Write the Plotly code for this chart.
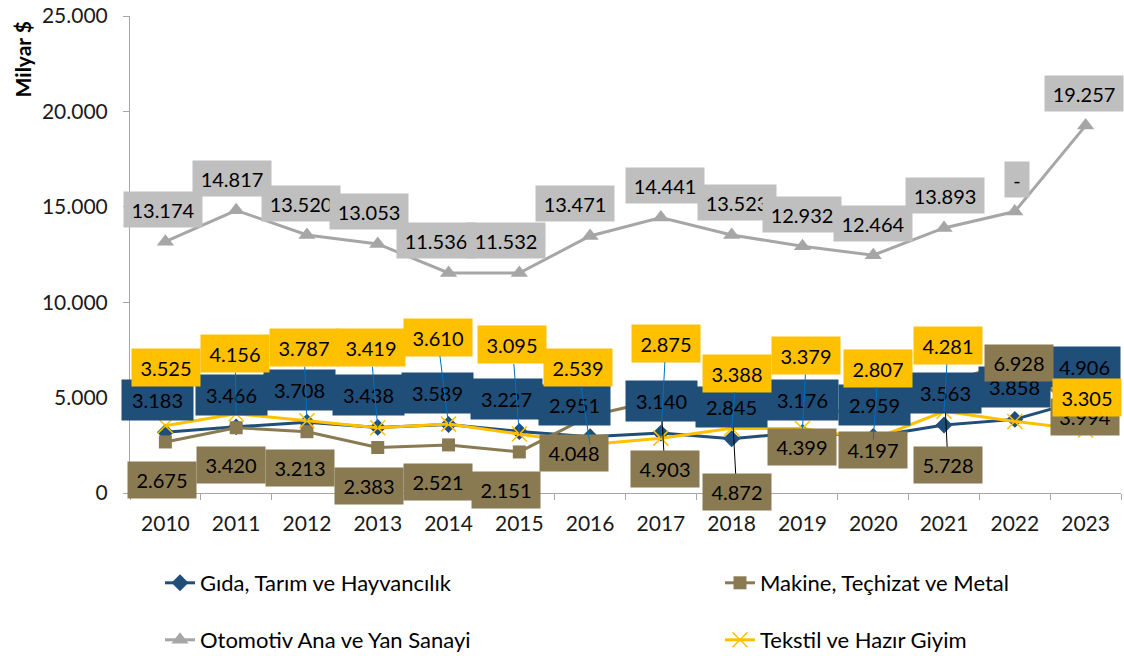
import plotly.graph_objects as go

years = ["2010", "2011", "2012", "2013", "2014", "2015", "2016",
         "2017", "2018", "2019", "2020", "2021", "2022", "2023"]
gida = [3183, 3466, 3708, 3438, 3589, 3227, 2951, 3140, 2845, 3176, 2959, 3563, 3858, 4906]
makine = [2675, 3420, 3213, 2383, 2521, 2151, 4048, 4903, 4872, 4399, 4197, 5728, 6928, 3994]
otomotiv = [13174, 14817, 13520, 13053, 11536, 11532, 13471, 14441, 13523, 12932, 12464, 13893, 14750, 19257]
tekstil = [3525, 4156, 3787, 3419, 3610, 3095, 2539, 2875, 3388, 3379, 2807, 4281, 3750, 3305]

def fmt(v):
    return f"{v:,}".replace(",", ".")

gida_labels = [fmt(v) for v in gida]
makine_labels = [fmt(v) for v in makine]
otomotiv_labels = [fmt(v) for v in otomotiv]
otomotiv_labels[12] = "-"
tekstil_labels = [fmt(v) for v in tekstil]
tekstil_labels[12] = None

names = ["Gıda, Tarım ve Hayvancılık", "Makine, Teçhizat ve Metal",
         "Otomotiv Ana ve Yan Sanayi", "Tekstil ve Hazır Giyim"]

BLUE = "#1F4E79"
BROWN = "#8A7A52"
GRAY = "#A6A6A6"
GRAYBOX = "#BFBFBF"
YELLOW = "#FFC000"
FONT = "Lato"

W, H = 1124, 656

fig = go.Figure()
fig.add_trace(go.Scatter(x=years, y=gida, name=names[0], mode="lines+markers",
                         line=dict(color=BLUE, width=3),
                         marker=dict(symbol="diamond", size=13, color=BLUE), legend="legend"))
fig.add_trace(go.Scatter(x=years, y=makine, name=names[1], mode="lines+markers",
                         line=dict(color=BROWN, width=3),
                         marker=dict(symbol="square", size=13, color=BROWN), legend="legend2"))
fig.add_trace(go.Scatter(x=years, y=otomotiv, name=names[2], mode="lines+markers",
                         line=dict(color=GRAY, width=3),
                         marker=dict(symbol="triangle-up", size=15, color=GRAY), legend="legend3"))
fig.add_trace(go.Scatter(x=years, y=tekstil, name=names[3], mode="lines+markers",
                         line=dict(color=YELLOW, width=3),
                         marker=dict(symbol="x-thin", size=15, color=YELLOW,
                                     line=dict(width=1.5, color=YELLOW)), legend="legend4"))

# label placement styles (pixel offsets of label boxes from their points)
oto_dx = [-2, -4, -6, -9, -13, -13, -15, 4, 5, 0, 0, 1, 2, -2]
oto_dy = [-32] * 14
gida_dx = [-8, -5, -7, -9, -11, -13, -16, 1, 0, 0, 1, 1, 0, -1]
gida_dy = [-32] * 14
mak_dx = [-3, -5, -7, -9, -11, -13, -16, 4, 5, 0, 0, 4, 4, -1]
mak_dy = [38, 37, 36, 38, 37, 38, 37, 70, 92, 38, 37, 81, 2, 0]
tek_dx = [1, -1, -3, -7, -11, -7, -12, 5, 5, 4, 5, 4, 0, 1]
tek_dy = [-58, -60, -73, -80, -87, -89, -77, -95, -55, -73, -71, -66, 0, -32]
tek_leader = [False, True, True, True, True, True, True, True, True, True, True, True, False, False]
mak_leader = [False, False, False, False, False, False, False, True, True, False, False, True, False, False]

annotations = []
shapes = []

def add_labels(vals, labels, dxs, dys, bg, w, h, leaders=None, leader_color=None):
    for i, (v, t) in enumerate(zip(vals, labels)):
        if t is None:
            continue
        lead = leaders[i] if leaders else False
        bw = w if t != "-" else 10
        annotations.append(dict(
            x=i, y=v, xref="x", yref="y", text=t,
            showarrow=True, ax=dxs[i], ay=dys[i], axref="pixel", ayref="pixel",
            arrowhead=0, arrowwidth=1, standoff=0,
            arrowcolor=leader_color if lead else "rgba(0,0,0,0)",
            bgcolor=bg, borderpad=7, width=bw, height=h,
            font=dict(family=FONT, size=20, color="#000000")))

add_labels(otomotiv, otomotiv_labels, oto_dx, oto_dy, GRAYBOX, 64, 21)
add_labels(gida, gida_labels, gida_dx, gida_dy, BLUE, 57, 26)
add_labels(makine, makine_labels, mak_dx, mak_dy, BROWN, 54, 22)
add_labels(tekstil, tekstil_labels, tek_dx, tek_dy, YELLOW, 54, 23,
           leaders=tek_leader, leader_color="#0070C0")

# brown leader lines drawn below all label boxes
for i, v in enumerate(makine):
    if mak_leader[i]:
        shapes.append(dict(type="line", xref="x", yref="y",
                           xsizemode="pixel", ysizemode="pixel",
                           xanchor=i, yanchor=v, x0=0, y0=0,
                           x1=mak_dx[i], y1=-mak_dy[i],
                           line=dict(color="#000000", width=1)))

annotations.append(dict(text="<b>Milyar $</b>", xref="paper", yref="paper",
                        x=-0.109, y=0.909, xanchor="center", yanchor="middle",
                        textangle=-90, showarrow=False,
                        font=dict(family=FONT, size=21, color="#000000")))

def legend_box(xpx, ypx):
    return dict(orientation="h", xref="container", yref="container",
                x=xpx / W, y=1 - ypx / H, xanchor="left", yanchor="middle",
                font=dict(family=FONT, size=22, color="#000000"),
                bgcolor="rgba(0,0,0,0)")

fig.update_layout(
    width=W, height=H,
    showlegend=True,
    margin=dict(l=130, r=3, t=16, b=163, autoexpand=False),
    paper_bgcolor="white", plot_bgcolor="white",
    separators=",.",
    font=dict(family=FONT, size=20, color="#1a1a1a"),
    annotations=annotations, shapes=shapes,
    xaxis=dict(type="category", range=[-0.5, 13.5], tickson="boundaries",
               ticks="outside", ticklen=6, tickcolor="#A6A6A6",
               showline=True, linecolor="#A6A6A6", linewidth=1, automargin=False,
               showgrid=False, zeroline=False, ticklabelstandoff=12,
               tickfont=dict(family=FONT, size=21, color="#1a1a1a")),
    yaxis=dict(range=[0, 25000], tickvals=[0, 5000, 10000, 15000, 20000, 25000],
               tickformat=",", ticks="outside", ticklen=6, tickcolor="#A6A6A6",
               showline=True, linecolor="#A6A6A6", linewidth=1, automargin=False,
               showgrid=False, zeroline=False, ticklabelstandoff=11,
               ticklabeloverflow="allow",
               tickfont=dict(family=FONT, size=21, color="#1a1a1a")),
    legend=legend_box(160, 583),
    legend2=legend_box(720, 583),
    legend3=legend_box(160, 640),
    legend4=legend_box(720, 640),
)

fig.write_html("out.html", config={"displayModeBar": False},
               post_script="document.body.style.margin='0';")
